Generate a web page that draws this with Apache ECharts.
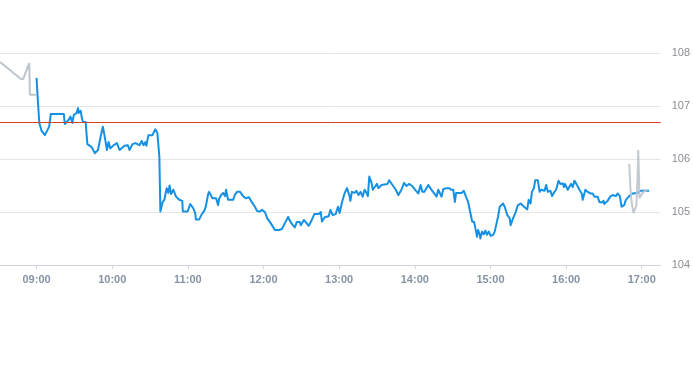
<!DOCTYPE html>
<html>
<head>
<meta charset="utf-8">
<script src="https://cdn.jsdelivr.net/npm/echarts@6/dist/echarts.min.js"></script>
<style>
html,body{margin:0;padding:0;background:#fff;}
#chart{width:693px;height:365px;}
</style>
</head>
<body>
<div id="chart"></div>
<script>
// times are minutes since midnight
var preTimes = [511, 527.6, 529.4, 534.2, 534.7, 539.4];
var prePrices = [107.83, 107.51, 107.51, 107.81, 107.21, 107.21];

var sessTimes = [
540.0,541.0,542.2,544.0,546.6,550.0,551.3,561.6,562.4,565.5,566.9,568.4,569.5,571.8,572.9,573.4,575.0,575.8,576.8,578.9,
580.3,583.5,586.3,588.7,590.8,592.6,594.5,595.8,597.1,598.5,601.1,603.7,605.8,609.8,612.4,613.7,616.1,618.4,619.8,621.6,
623.4,624.8,626.3,627.1,628.7,631.9,634.2,635.8,637.4,638.2,640.0,641.4,643.2,644.5,645.5,646.7,648.5,650.6,653.2,655.6,
656.0,659.8,661.9,664.3,665.8,666.4,669.0,671.1,673.0,674.3,676.1,676.9,679.5,682.4,684.0,684.8,686.4,688.0,689.5,690.3,
691.9,694.3,695.9,697.2,699.0,701.4,703.8,705.9,706.9,708.5,710.6,713.2,714.8,717.2,718.8,721.1,723.0,725.7,729.0,732.2,
734.6,737.0,739.6,740.1,742.7,744.8,746.4,748.8,749.6,752.0,753.5,755.9,758.3,760.3,763.8,765.4,766.4,768.5,771.7,773.1,
774.9,777.2,779.1,780.4,782.2,784.3,786.2,788.3,788.9,790.1,792.2,793.6,795.4,797.0,798.6,800.2,801.8,802.8,803.9,805.7,
806.7,808.8,809.9,811.2,813.6,818.3,819.7,822.3,824.9,827.0,829.4,831.5,833.3,835.7,838.3,841.0,842.8,844.6,846.0,847.6,
850.7,852.3,853.9,855.4,857.3,858.6,860.0,861.2,862.6,864.9,867.3,868.9,870.5,871.8,872.8,874.4,877.0,878.9,880.7,882.3,
884.1,885.5,887.1,888.6,889.4,890.2,891.6,892.0,893.4,894.7,896.0,897.3,898.7,900.2,902.1,903.4,906.0,907.4,908.6,910.0,
911.3,913.4,915.3,916.0,917.9,919.7,921.8,924.0,927.1,929.2,930.3,931.8,932.9,934.5,935.5,937.6,939.0,940.2,942.9,944.2,
945.5,947.6,948.9,950.8,952.1,954.0,955.5,957.4,958.2,959.2,961.3,962.7,963.9,965.3,966.6,967.9,969.2,970.6,972.4,973.2,
975.3,977.1,979.2,981.1,982.4,983.7,985.0,986.4,988.2,989.8,990.3,992.9,995.0,996.9,998.2,999.5,1000.8,1002.6,1004.0,1006.1,
1007.4,1010.1,1012.7,1016.6,1019.0,1025.9
];
var sessPrices = [
107.53,107.11,106.68,106.53,106.45,106.61,106.85,106.85,106.66,106.74,106.80,106.68,106.83,106.87,106.96,106.87,106.91,106.79,106.70,106.70,
106.28,106.23,106.11,106.17,106.42,106.61,106.36,106.17,106.32,106.20,106.26,106.30,106.17,106.25,106.26,106.17,106.28,106.30,106.33,106.26,
106.34,106.26,106.32,106.25,106.45,106.45,106.56,106.49,106.04,105.01,105.19,105.23,105.45,105.36,105.50,105.34,105.42,105.29,105.23,105.21,
105.01,105.01,105.15,105.07,104.98,104.86,104.86,104.96,105.02,105.11,105.34,105.38,105.26,105.26,105.13,105.25,105.32,105.36,105.30,105.42,
105.23,105.23,105.23,105.32,105.38,105.38,105.30,105.26,105.25,105.28,105.19,105.10,105.02,105.01,105.04,105.00,104.88,104.79,104.66,104.66,
104.68,104.79,104.91,104.87,104.77,104.71,104.81,104.81,104.75,104.85,104.81,104.74,104.85,104.96,104.96,105.00,104.82,104.90,104.92,105.04,
104.94,104.96,105.10,104.98,105.18,105.35,105.45,105.30,105.21,105.38,105.36,105.40,105.32,105.38,105.29,105.42,105.36,105.30,105.67,105.55,
105.42,105.49,105.53,105.45,105.51,105.53,105.60,105.51,105.42,105.32,105.42,105.55,105.49,105.53,105.48,105.40,105.35,105.51,105.38,105.38,
105.51,105.45,105.40,105.43,105.29,105.42,105.45,105.29,105.43,105.45,105.45,105.42,105.42,105.19,105.36,105.36,105.36,105.40,105.28,105.19,
104.98,104.82,104.81,104.83,104.53,104.66,104.57,104.50,104.63,104.58,104.65,104.57,104.63,104.55,104.57,104.63,104.91,105.10,105.07,105.16,
105.10,104.94,104.88,104.75,104.88,104.98,105.13,105.16,105.09,105.05,105.23,105.16,105.38,105.45,105.60,105.60,105.38,105.42,105.40,105.51,
105.38,105.40,105.30,105.38,105.42,105.59,105.53,105.54,105.47,105.53,105.42,105.48,105.53,105.47,105.59,105.54,105.53,105.42,105.35,105.23,
105.42,105.38,105.35,105.35,105.29,105.32,105.29,105.19,105.18,105.21,105.15,105.21,105.29,105.32,105.35,105.30,105.35,105.30,105.10,105.13,
105.23,105.30,105.35,105.36,105.40,105.40
];

var postTimes = [1010.1, 1011.1, 1012.3, 1013.5, 1014.8, 1015.8, 1016.6, 1017.2, 1017.7, 1018.2, 1019.0, 1021.4, 1024.5];
var postPrices = [105.91, 105.42, 105.13, 104.98, 104.96, 105.13, 105.60, 106.17, 105.79, 105.26, 105.30, 105.38, 105.42];

var refPrice = 106.70;
var hourTicks = [540, 600, 660, 720, 780, 840, 900, 960, 1020];

function zip(a, b) { return a.map(function (t, i) { return [t, b[i]]; }); }
function fmt(v) {
  var h = Math.floor(v / 60), m = Math.round(v - h * 60);
  return (h < 10 ? '0' : '') + h + ':' + (m < 10 ? '0' : '') + m;
}

var chart = echarts.init(document.getElementById('chart'), null, {renderer: 'canvas'});
chart.setOption({
  animation: false,
  backgroundColor: '#fff',
  grid: {left: 0, right: 30, top: 53, bottom: 100, containLabel: false},
  xAxis: {
    type: 'value',
    min: 511,
    max: 1035,
    splitLine: {show: false},
    axisLine: {lineStyle: {color: '#d0d5de', width: 1}},
    axisTick: {show: true, length: 4, customValues: hourTicks, lineStyle: {color: '#d0d5de'}},
    axisLabel: {
      customValues: hourTicks,
      formatter: fmt,
      color: '#8793a5',
      fontWeight: 'bold',
      fontSize: 11,
      fontFamily: '"Liberation Sans", Arial, sans-serif',
      margin: 9
    }
  },
  yAxis: {
    type: 'value',
    position: 'right',
    min: 104,
    max: 108,
    interval: 1,
    axisLine: {show: false},
    axisTick: {show: false},
    splitLine: {lineStyle: {color: '#e6e6e6', width: 1}},
    axisLabel: {
      color: '#8a8d93',
      fontSize: 11,
      fontFamily: '"Liberation Sans", Arial, sans-serif',
      margin: 11
    }
  },
  series: [
    {
      type: 'line',
      data: zip(preTimes, prePrices),
      showSymbol: false,
      lineStyle: {color: '#bcc4cc', width: 2},
      z: 2
    },
    {
      type: 'line',
      data: zip(sessTimes, sessPrices),
      showSymbol: false,
      lineStyle: {color: '#1590e3', width: 2, join: 'round'},
      z: 3,
      markLine: {
        silent: true,
        symbol: ['none', 'none'],
        label: {show: false},
        lineStyle: {color: '#d0402f', width: 1, type: 'solid'},
        data: [{yAxis: refPrice}]
      }
    },
    {
      type: 'line',
      data: zip(postTimes, postPrices),
      showSymbol: false,
      lineStyle: {color: '#bcc4cc', width: 2, opacity: 0.9},
      z: 4
    }
  ]
});
</script>
</body>
</html>
